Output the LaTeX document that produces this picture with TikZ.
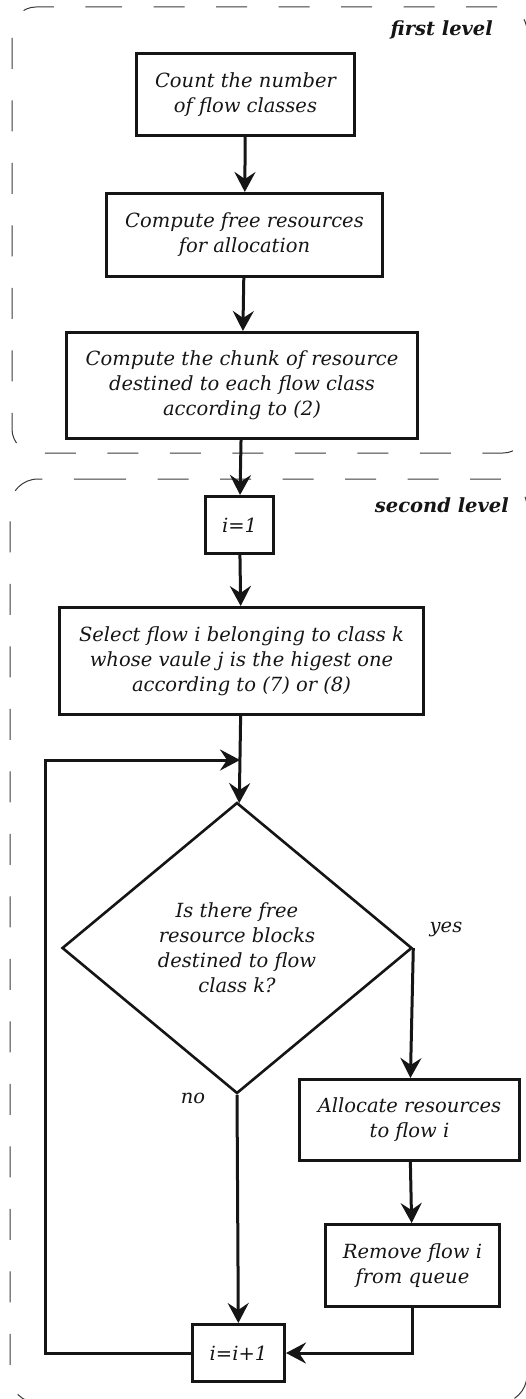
\documentclass[tikz,border=0pt]{standalone}
\usepackage{fontspec}
\setmainfont{DejaVu Serif}
\usetikzlibrary{shapes.geometric,arrows.meta}
\definecolor{ink}{HTML}{151515}
\definecolor{dashc}{HTML}{3A3A3A}
\begin{document}
\begin{tikzpicture}[x=1pt,y=-1pt,
  box/.style={draw=ink, line width=3pt, inner sep=0pt, align=center, text=ink,
    font=\fontsize{19.5}{25}\selectfont\itshape},
  decision/.style={diamond, draw=ink, line width=2.6pt, inner sep=0pt, align=center, text=ink,
    font=\fontsize{19.5}{25}\selectfont\itshape},
  arr/.style={draw=ink, line width=3pt, -{Stealth[length=20pt,width=21pt,inset=7pt]}},
  plain/.style={draw=ink, line width=3pt},
  lbl/.style={text=ink, inner sep=0pt, font=\fontsize{19.5}{25}\selectfont\itshape},
  lvl/.style={text=ink, inner sep=0pt, font=\fontsize{19.5}{25}\selectfont\bfseries\itshape},
  dashbox/.style={draw=dashc, line width=1pt, dash pattern=on 31pt off 31.5pt}
]
\useasboundingbox (0,0) rectangle (526,1399);

% level frames
\draw[dashbox, rounded corners=24pt] (67,7) -- (527,7) -- (527,453) -- (12,453) -- (12,7) -- cycle;
\draw[dashbox, rounded corners=28pt] (67,479) -- (527,479) -- (527,1403) -- (10,1403) -- (10,479) -- cycle;

\node[lvl, anchor=base east] (l1) at (493,36) {first level};
\node[lvl, anchor=base east] (l2) at (509,512) {second level};

% nodes
\node[box, minimum width=218pt, minimum height=82pt] (count) at (245.5,94.5) {Count the number\\of flow classes};
\node[box, minimum width=276pt, minimum height=83pt] (free) at (244.5,235) {Compute free resources\\for allocation};
\node[box, minimum width=351pt, minimum height=106pt] (chunk) at (242,385.5) {Compute the chunk of resource\\destined to each flow class\\according to (2)};
\node[box, minimum width=68pt, minimum height=57pt] (init) at (239.5,525) {i=1};
\node[box, minimum width=364pt, minimum height=107pt] (sel) at (241.5,661) {Select flow i belonging to class k\\whose vaule j is the higest one\\according to (7) or (8)};
\node[decision, minimum width=350pt, minimum height=291pt] (dec) at (237,948) {Is there free\\resource blocks\\destined to flow\\class k?};
\node[box, minimum width=220pt, minimum height=81pt] (alloc) at (409.5,1120) {Allocate resources\\to flow i};
\node[box, minimum width=174pt, minimum height=82pt] (rem) at (412.5,1265.5) {Remove flow i\\from queue};
\node[box, minimum width=92pt, minimum height=57pt] (inc) at (238.5,1353) {i=i+1};

\node[lbl] (yes) at (446,929) {yes};
\node[lbl] (no) at (193,1098) {no};

\coordinate (jn) at (240,760);
\coordinate (lp) at (45,760);

% connectors
\draw[arr] (count) -- (free);
\draw[arr] (free) -- (chunk);
\draw[arr] (chunk) -- (init);
\draw[arr] (init) -- (sel);
\draw[arr] (sel) -- (dec);
\draw[arr] (inc.west) -| (lp) -- (jn);
\draw[arr] (dec.east) -- (alloc);
\draw[arr] (dec.south) -- (inc);
\draw[arr] (alloc) -- (rem);
\draw[arr] (rem.south) |- (inc.east);
\end{tikzpicture}
\end{document}
